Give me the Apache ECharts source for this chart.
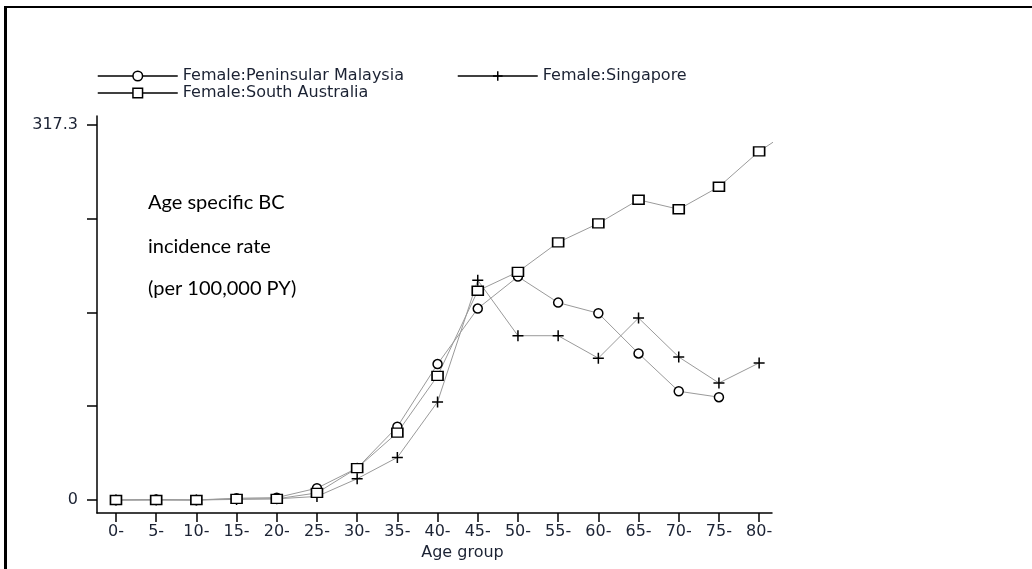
<!DOCTYPE html>
<html>
<head>
<meta charset="utf-8">
<script src="https://cdn.jsdelivr.net/npm/echarts@6/dist/echarts.min.js"></script>
<style>
html,body{margin:0;padding:0;background:#fff;}
#chart{width:1032px;height:569px;}
</style>
</head>
<body>
<div id="chart"></div>
<script>
// Age group start values
const ageGroups = [0, 5, 10, 15, 20, 25, 30, 35, 40, 45, 50, 55, 60, 65, 70, 75, 80, 85];
const tickAges = [0, 5, 10, 15, 20, 25, 30, 35, 40, 45, 50, 55, 60, 65, 70, 75, 80];
const yTicks = [0, 79.325, 158.65, 237.975, 317.3];
const yLabels = [0, 317.3];

const seriesNames = ['Female:Peninsular Malaysia', 'Female:Singapore', 'Female:South Australia'];
const malaysia = [0, 0.5, 0, 1.5, 2, 10, 27, 62, 115, 162, 189, 167, 158, 124, 92, 87];
const singapore = [0, 0, 0, 0.5, 1, 3, 18, 36, 83, 186, 139, 139, 120, 154, 121, 99, 116];
const southAustralia = [0, 0, 0, 1, 1, 6, 27, 57, 105, 177, 193, 218, 234, 254, 246, 265, 295, 317.3];

const annotationLines = ['Age specific BC', 'incidence rate', '(per 100,000 PY)'];

function pairs(vals) { return vals.map((v, i) => [ageGroups[i], v]); }

const textColor = '#1b2233';
const stataFont = '"DejaVu Sans", "Liberation Sans", sans-serif';
const plusPath = 'path://M0,5L10,5M5,0L5,10';

const chart = echarts.init(document.getElementById('chart'), null, {renderer: 'canvas'});

const baseSeries = {
  type: 'line',
  symbolSize: 9,
  lineStyle: {color: '#9a9a9a', width: 1},
  itemStyle: {color: '#fff', borderColor: '#000', borderWidth: 1.5},
  emphasis: {disabled: true},
  animation: false,
  clip: true
};

const legendCommon = {
  orient: 'horizontal',
  itemWidth: 80,
  itemHeight: 12,
  itemGap: 10,
  selectedMode: false,
  textStyle: {fontFamily: stataFont, fontSize: 16, color: textColor},
  lineStyle: {color: '#000', width: 1.5},
  itemStyle: {color: '#fff', borderColor: '#000', borderWidth: 1.5}
};

const option = {
  backgroundColor: '#fff',
  animation: false,
  grid: {left: 97, right: 260, top: 116, bottom: 56, containLabel: false},
  legend: [
    Object.assign({}, legendCommon, {left: 92, top: 63, data: [seriesNames[0]]}),
    Object.assign({}, legendCommon, {left: 452, top: 63, data: [seriesNames[1]]}),
    Object.assign({}, legendCommon, {left: 92, top: 80, data: [seriesNames[2]]})
  ],
  xAxis: {
    type: 'value',
    min: -2.36,
    max: 81.6,
    splitLine: {show: false},
    axisLine: {show: true, onZero: false, lineStyle: {color: '#000', width: 1.5}},
    axisTick: {show: true, length: 9, lineStyle: {color: '#000', width: 1.5}, customValues: tickAges},
    axisLabel: {
      customValues: tickAges,
      formatter: v => v + '-',
      fontFamily: stataFont, fontSize: 16, color: textColor, margin: 11
    },
    name: 'Age group',
    nameLocation: 'middle',
    nameGap: 30,
    nameTextStyle: {fontFamily: stataFont, fontSize: 16, color: textColor, padding: [0, 0, 0, 56]}
  },
  yAxis: {
    type: 'value',
    min: -11,
    max: 324.9,
    splitLine: {show: false},
    axisLine: {show: true, onZero: false, lineStyle: {color: '#000', width: 1.5}},
    axisTick: {show: true, length: 10, lineStyle: {color: '#000', width: 1.5}, customValues: yTicks},
    axisLabel: {
      customValues: yLabels,
      formatter: v => String(v),
      fontFamily: stataFont, fontSize: 16, color: textColor, margin: 19
    }
  },
  series: [
    Object.assign({}, baseSeries, {name: seriesNames[0], symbol: 'circle', data: pairs(malaysia)}),
    Object.assign({}, baseSeries, {name: seriesNames[1], symbol: plusPath, symbolSize: 11, data: pairs(singapore)}),
    Object.assign({}, baseSeries, {name: seriesNames[2], symbol: 'rect', symbolSize: [11, 9], data: pairs(southAustralia)})
  ],
  graphic: [
    {type: 'rect', left: 4, top: 6, shape: {width: 3, height: 563}, style: {fill: '#000'}, silent: true},
    {type: 'rect', left: 4, top: 6, shape: {width: 1028, height: 2}, style: {fill: '#000'}, silent: true},
    {type: 'text', left: 148, top: 193, style: {text: annotationLines[0], font: '20px Lato, "Open Sans", sans-serif', fill: '#000'}},
    {type: 'text', left: 148, top: 237, style: {text: annotationLines[1], font: '20px Lato, "Open Sans", sans-serif', fill: '#000'}},
    {type: 'text', left: 148, top: 279, style: {text: annotationLines[2], font: '20px Lato, "Open Sans", sans-serif', fill: '#000'}}
  ]
};

chart.setOption(option);
</script>
</body>
</html>
